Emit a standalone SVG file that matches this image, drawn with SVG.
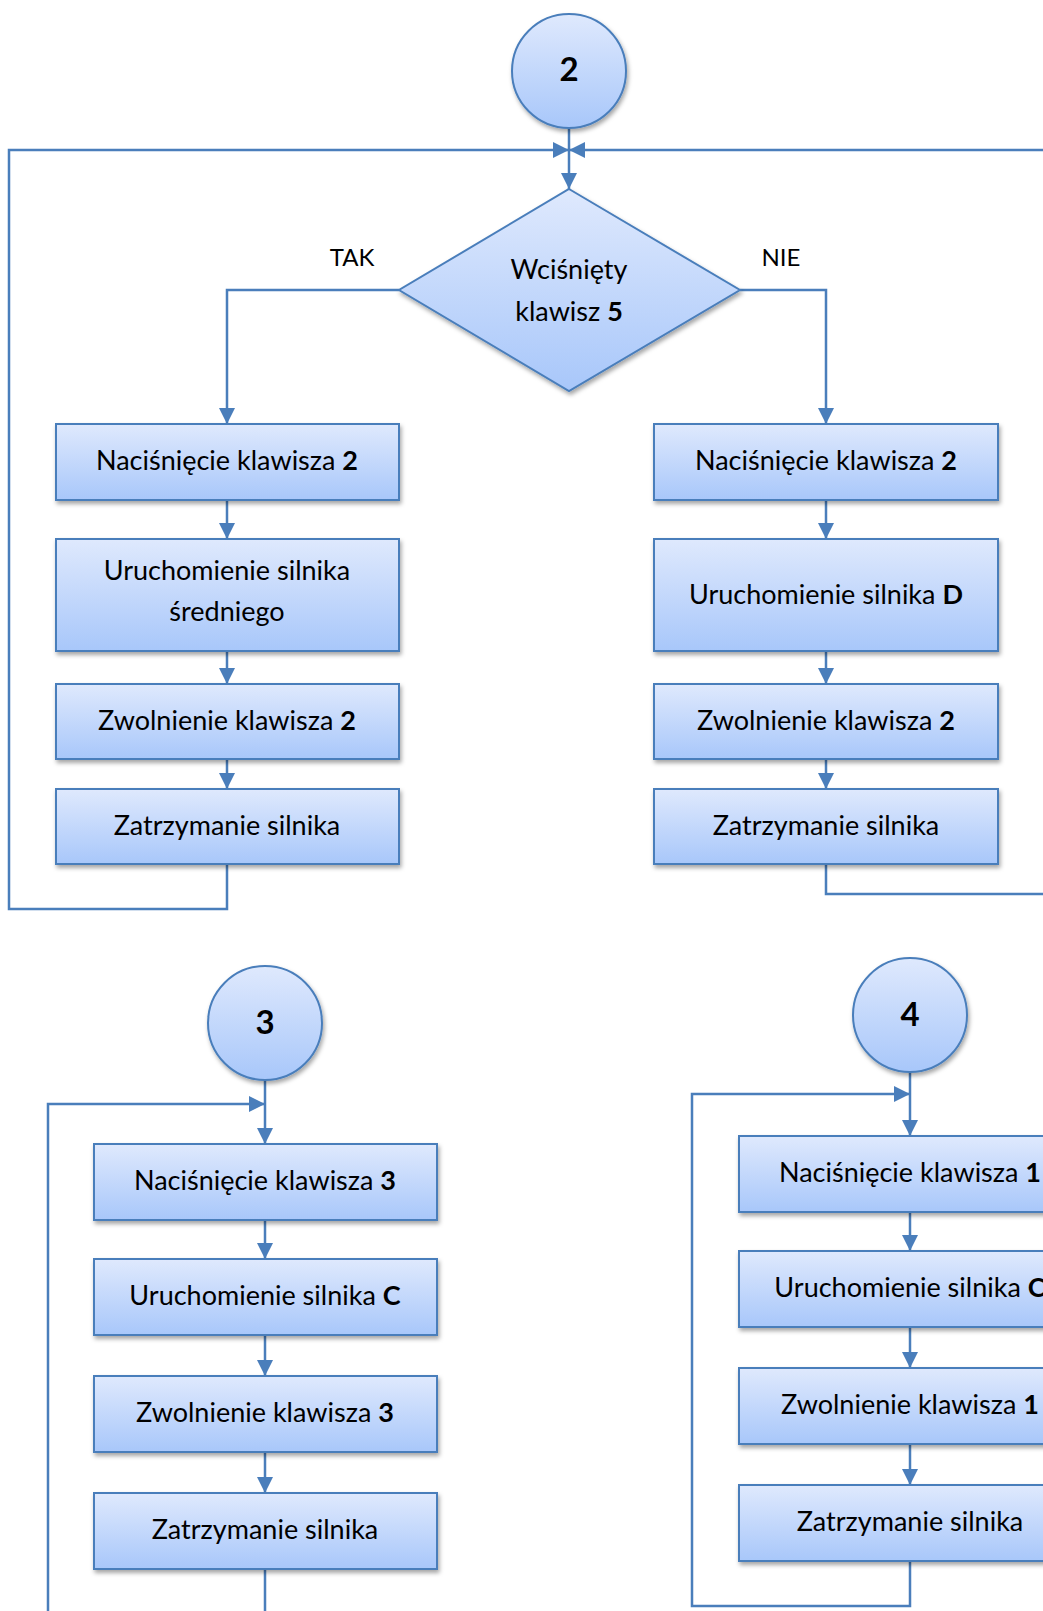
<svg xmlns="http://www.w3.org/2000/svg" width="1043" height="1611" viewBox="0 0 1043 1611">
  <defs>
    <linearGradient id="fillGrad" x1="0" y1="0" x2="0" y2="1">
      <stop offset="0" stop-color="#dfe9fd"/>
      <stop offset="1" stop-color="#a8c7fa"/>
    </linearGradient>
    <filter id="shadow" x="-10%" y="-10%" width="130%" height="140%">
      <feDropShadow dx="1.5" dy="3" stdDeviation="2.2" flood-color="#000" flood-opacity="0.35"/>
    </filter>
    <marker id="arrow" markerUnits="userSpaceOnUse" markerWidth="16" markerHeight="16" viewBox="0 0 16 16" refX="16" refY="8" orient="auto">
      <path d="M0,0 L16,8 L0,16 Z" fill="#4a7ebb"/>
    </marker>
  </defs>
  <style>
    .shape { fill: url(#fillGrad); stroke: #4a7ebb; stroke-width: 2; filter: url(#shadow); }
    .conn { fill: none; stroke: #4a7ebb; stroke-width: 2.5; }
    .arr { marker-end: url(#arrow); }
    .lbl { font-family: Lato, "Open Sans", sans-serif; font-size: 27px; fill: #000; text-anchor: middle; }
    .tag { font-family: Lato, "Open Sans", sans-serif; font-size: 24px; fill: #000; text-anchor: middle; }
    .num { font-family: Lato, "Open Sans", sans-serif; font-size: 33px; font-weight: bold; fill: #000; text-anchor: middle; }
    .b { font-weight: bold; }
  </style>
  <rect width="1043" height="1611" fill="#fff"/>

  <!-- connectors -->
  <g id="connectors">
    <path class="conn arr" d="M569,128 V189"/>
    <path class="conn arr" d="M227,864 V909 H9 V150 H569"/>
    <path class="conn arr" d="M826,864 V894 H1060 V150 H569"/>
    <path class="conn arr" d="M399,290 H227 V424"/>
    <path class="conn arr" d="M740,290 H826 V424"/>
    <path class="conn arr" d="M227,500 V539"/>
    <path class="conn arr" d="M227,651 V684"/>
    <path class="conn arr" d="M227,759 V789"/>
    <path class="conn arr" d="M826,500 V539"/>
    <path class="conn arr" d="M826,651 V684"/>
    <path class="conn arr" d="M826,759 V789"/>

    <path class="conn arr" d="M265,1080 V1144"/>
    <path class="conn arr" d="M265,1569 V1630 H48 V1104 H265"/>
    <path class="conn arr" d="M265,1220 V1259"/>
    <path class="conn arr" d="M265,1335 V1376"/>
    <path class="conn arr" d="M265,1452 V1493"/>

    <path class="conn arr" d="M910,1072 V1136"/>
    <path class="conn arr" d="M910,1561 V1606 H692 V1094 H910"/>
    <path class="conn arr" d="M910,1212 V1251"/>
    <path class="conn arr" d="M910,1327 V1368"/>
    <path class="conn arr" d="M910,1444 V1485"/>
  </g>

  <!-- branch labels -->
  <text class="tag" x="352" y="266">TAK</text>
  <text class="tag" x="781" y="266">NIE</text>

  <!-- block 2 -->
  <g id="start2">
    <circle class="shape" cx="569" cy="71" r="57"/>
    <text class="num" x="569" y="81">2</text>
  </g>
  <g id="decision5">
    <path class="shape" d="M569,189 L740,290 L569,391 L399,290 Z"/>
    <text class="lbl" x="569" y="279">Wciśnięty</text>
    <text class="lbl" x="569" y="321">klawisz <tspan class="b">5</tspan></text>
  </g>

  <g id="l1">
    <rect class="shape" x="56" y="424" width="343" height="76"/>
    <text class="lbl" x="227" y="470">Naciśnięcie klawisza <tspan class="b">2</tspan></text>
  </g>
  <g id="l2">
    <rect class="shape" x="56" y="539" width="343" height="112"/>
    <text class="lbl" x="227" y="580">Uruchomienie silnika</text>
    <text class="lbl" x="227" y="621">średniego</text>
  </g>
  <g id="l3">
    <rect class="shape" x="56" y="684" width="343" height="75"/>
    <text class="lbl" x="227" y="730">Zwolnienie klawisza <tspan class="b">2</tspan></text>
  </g>
  <g id="l4">
    <rect class="shape" x="56" y="789" width="343" height="75"/>
    <text class="lbl" x="227" y="835">Zatrzymanie silnika</text>
  </g>

  <g id="r1">
    <rect class="shape" x="654" y="424" width="344" height="76"/>
    <text class="lbl" x="826" y="470">Naciśnięcie klawisza <tspan class="b">2</tspan></text>
  </g>
  <g id="r2">
    <rect class="shape" x="654" y="539" width="344" height="112"/>
    <text class="lbl" x="826" y="604">Uruchomienie silnika <tspan class="b">D</tspan></text>
  </g>
  <g id="r3">
    <rect class="shape" x="654" y="684" width="344" height="75"/>
    <text class="lbl" x="826" y="730">Zwolnienie klawisza <tspan class="b">2</tspan></text>
  </g>
  <g id="r4">
    <rect class="shape" x="654" y="789" width="344" height="75"/>
    <text class="lbl" x="826" y="835">Zatrzymanie silnika</text>
  </g>

  <!-- block 3 -->
  <g id="start3">
    <circle class="shape" cx="265" cy="1023" r="57"/>
    <text class="num" x="265" y="1034">3</text>
  </g>
  <g id="c3_1">
    <rect class="shape" x="94" y="1144" width="343" height="76"/>
    <text class="lbl" x="265" y="1190">Naciśnięcie klawisza <tspan class="b">3</tspan></text>
  </g>
  <g id="c3_2">
    <rect class="shape" x="94" y="1259" width="343" height="76"/>
    <text class="lbl" x="265" y="1305">Uruchomienie silnika <tspan class="b">C</tspan></text>
  </g>
  <g id="c3_3">
    <rect class="shape" x="94" y="1376" width="343" height="76"/>
    <text class="lbl" x="265" y="1422">Zwolnienie klawisza <tspan class="b">3</tspan></text>
  </g>
  <g id="c3_4">
    <rect class="shape" x="94" y="1493" width="343" height="76"/>
    <text class="lbl" x="265" y="1539">Zatrzymanie silnika</text>
  </g>

  <!-- block 4 -->
  <g id="start4">
    <circle class="shape" cx="910" cy="1015" r="57"/>
    <text class="num" x="910" y="1026">4</text>
  </g>
  <g id="c4_1">
    <rect class="shape" x="739" y="1136" width="343" height="76"/>
    <text class="lbl" x="910" y="1182">Naciśnięcie klawisza <tspan class="b">1</tspan></text>
  </g>
  <g id="c4_2">
    <rect class="shape" x="739" y="1251" width="343" height="76"/>
    <text class="lbl" x="910" y="1297">Uruchomienie silnika <tspan class="b">C</tspan></text>
  </g>
  <g id="c4_3">
    <rect class="shape" x="739" y="1368" width="343" height="76"/>
    <text class="lbl" x="910" y="1414">Zwolnienie klawisza <tspan class="b">1</tspan></text>
  </g>
  <g id="c4_4">
    <rect class="shape" x="739" y="1485" width="343" height="76"/>
    <text class="lbl" x="910" y="1531">Zatrzymanie silnika</text>
  </g>
</svg>
